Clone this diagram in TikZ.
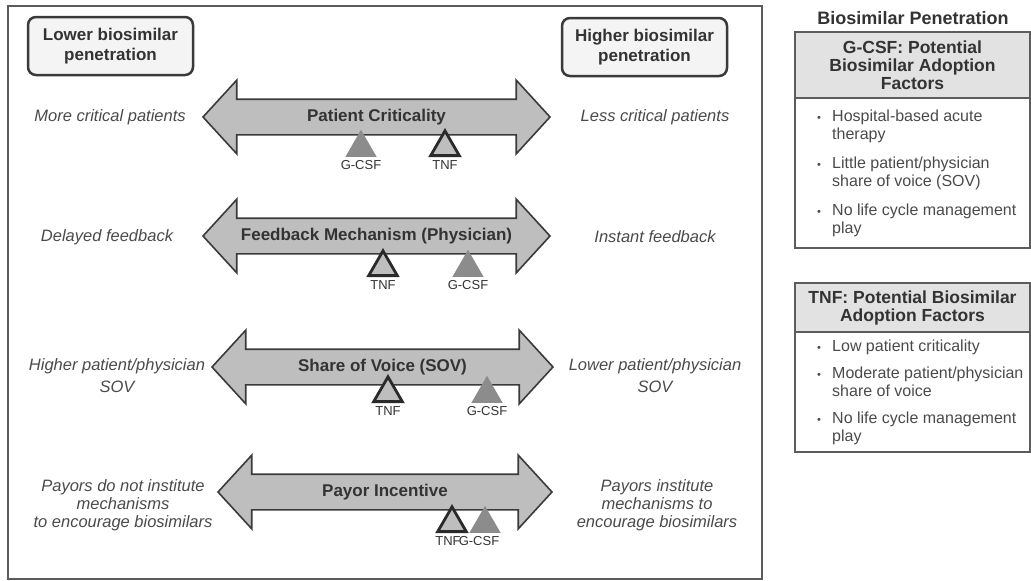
\documentclass[tikz,border=0pt]{standalone}
\usepackage{fontspec}
\setmainfont{Liberation Sans}
\usepackage{xcolor}
\usetikzlibrary{positioning,shapes.arrows,shapes.geometric}

\definecolor{framegray}{HTML}{5C5C5C}
\definecolor{arrowfill}{HTML}{BEBEBE}
\definecolor{arrowline}{HTML}{3A3A3A}
\definecolor{gcsffill}{HTML}{8C8C8C}
\definecolor{tnffill}{HTML}{BEBEBE}
\definecolor{tnfline}{HTML}{2A2A2A}
\definecolor{textdark}{HTML}{333333}
\definecolor{textgray}{HTML}{4A4A4A}
\definecolor{boxfill}{HTML}{F4F4F4}
\definecolor{headfill}{HTML}{E2E2E2}

\newcommand{\dotitem}{\makebox[15pt][l]{\fontsize{11}{11}\selectfont\textbullet}}
\newcommand{\hang}{\hspace*{15pt}}

\tikzset{
  scalebar/.style={shape=double arrow, draw=arrowline, fill=arrowfill, line width=1.6pt,
    double arrow head extend=19pt, double arrow tip angle=95,
    inner xsep=0pt, inner ysep=9pt, text height=12pt, text depth=4pt,
    font=\fontsize{17}{19}\selectfont\bfseries, text=textdark},
  gcsfmark/.style={regular polygon, regular polygon sides=3, minimum size=36pt,
    inner sep=0pt, fill=gcsffill, anchor=south},
  tnfmark/.style={regular polygon, regular polygon sides=3, minimum size=33pt,
    inner sep=0pt, fill=tnffill, draw=tnfline, line width=2.8pt, anchor=south},
  marklabel/.style={font=\fontsize{13}{14}\selectfont, text=textdark, inner sep=1pt},
  endtext/.style={font=\fontsize{16.5}{18}\selectfont\itshape, text=textgray, align=center},
  endbox/.style={draw=arrowline, fill=boxfill, rounded corners=8pt, line width=2.5pt,
    minimum width=165pt, minimum height=58pt, align=center,
    font=\fontsize{17}{20}\selectfont\bfseries, text=textdark},
  headtext/.style={font=\fontsize{17.5}{18}\selectfont\bfseries, text=textdark, align=center},
  listtext/.style={font=\fontsize{16}{18}\selectfont, text=textgray, align=left, inner sep=0pt},
  panelline/.style={draw=framegray, line width=1.8pt}
}

\begin{document}
\begin{tikzpicture}[x=1pt,y=-1pt]
\useasboundingbox (0,0) rectangle (1031,581);

\draw[framegray, line width=1.5pt] (8,6) rectangle (762,579); % outer frame

\node[endbox] (lowbox) at (110.5,46) {Lower biosimilar\\penetration};
\node[endbox] (highbox) at (644.5,47) {Higher biosimilar\\penetration};

% patient criticality
\node[scalebar, minimum height=347pt] (critbar) at (376.5,117) {Patient Criticality};
\node[endtext] (critleft) at (110,117) {More critical patients};
\node[endtext] (critright) at (655,117) {Less critical patients};
\node[gcsfmark] (critgcsf) at (361,157) {};
\node[tnfmark] (crittnf) at (445,157) {};
\node[marklabel, below=2pt of critgcsf] (critgcsflab) {G-CSF};
\node[marklabel, below=2pt of crittnf] (crittnflab) {TNF};

% feedback mechanism
\node[scalebar, minimum height=347pt] (feedbar) at (376.5,236) {Feedback Mechanism (Physician)};
\node[endtext] (feedleft) at (107,237) {Delayed feedback};
\node[endtext] (feedright) at (655,237) {Instant feedback};
\node[tnfmark] (feedtnf) at (383,277) {};
\node[gcsfmark] (feedgcsf) at (468,277) {};
\node[marklabel, below=2pt of feedtnf] (feedtnflab) {TNF};
\node[marklabel, below=2pt of feedgcsf] (feedgcsflab) {G-CSF};

% share of voice
\node[scalebar, minimum height=341pt] (sovbar) at (382.5,367) {Share of Voice (SOV)};
\node[endtext] (sovleft) at (117,376) {Higher patient/physician\\[4pt]SOV};
\node[endtext] (sovright) at (655,376) {Lower patient/physician\\[4pt]SOV};
\node[tnfmark] (sovtnf) at (388,403) {};
\node[gcsfmark] (sovgcsf) at (487,403) {};
\node[marklabel, below=2pt of sovtnf] (sovtnflab) {TNF};
\node[marklabel, below=2pt of sovgcsf] (sovgcsflab) {G-CSF};

% payor incentive
\node[scalebar, minimum height=334pt] (paybar) at (385,492) {Payor Incentive};
\node[endtext] (payleft) at (123,505) {Payors do not institute\\mechanisms\\to encourage biosimilars};
\node[endtext] (payright) at (657,505) {Payors institute\\mechanisms to\\encourage biosimilars};
\node[tnfmark] (paytnf) at (452,533) {};
\node[gcsfmark] (paygcsf) at (485,533) {};
\node[marklabel, below=2pt of paytnf, xshift=-4pt] (paytnflab) {TNF};
\node[marklabel, below=2pt of paygcsf, xshift=-6pt] (paygcsflab) {G-CSF};

% right panel
\node[font=\fontsize{18}{20}\selectfont\bfseries, text=textdark] (pentitle) at (913,18) {Biosimilar Penetration};

\fill[headfill] (795,32) rectangle (1030,98); % G-CSF box
\draw[panelline] (795,32) rectangle (1030,248);
\draw[panelline] (795,98) -- (1030,98);
\node[headtext] (gcsfhead) at (912.5,65) {G-CSF: Potential\\Biosimilar Adoption\\Factors};
\node[listtext, anchor=north west] (gcsflist) at (817,110)
  {\dotitem Hospital-based acute\\\hang therapy\\[11pt]
   \dotitem Little patient/physician\\\hang share of voice (SOV)\\[11pt]
   \dotitem No life cycle management\\\hang play};

\fill[headfill] (795,283) rectangle (1030,332); % TNF box
\draw[panelline] (795,283) rectangle (1030,452);
\draw[panelline] (795,332) -- (1030,332);
\node[headtext] (tnfhead) at (912.5,307.5) {TNF: Potential Biosimilar\\Adoption Factors};
\node[listtext, anchor=north west] (tnflist) at (817,340)
  {\dotitem Low patient criticality\\[9pt]
   \dotitem Moderate patient/physician\\\hang share of voice\\[9pt]
   \dotitem No life cycle management\\\hang play};

\end{tikzpicture}
\end{document}
